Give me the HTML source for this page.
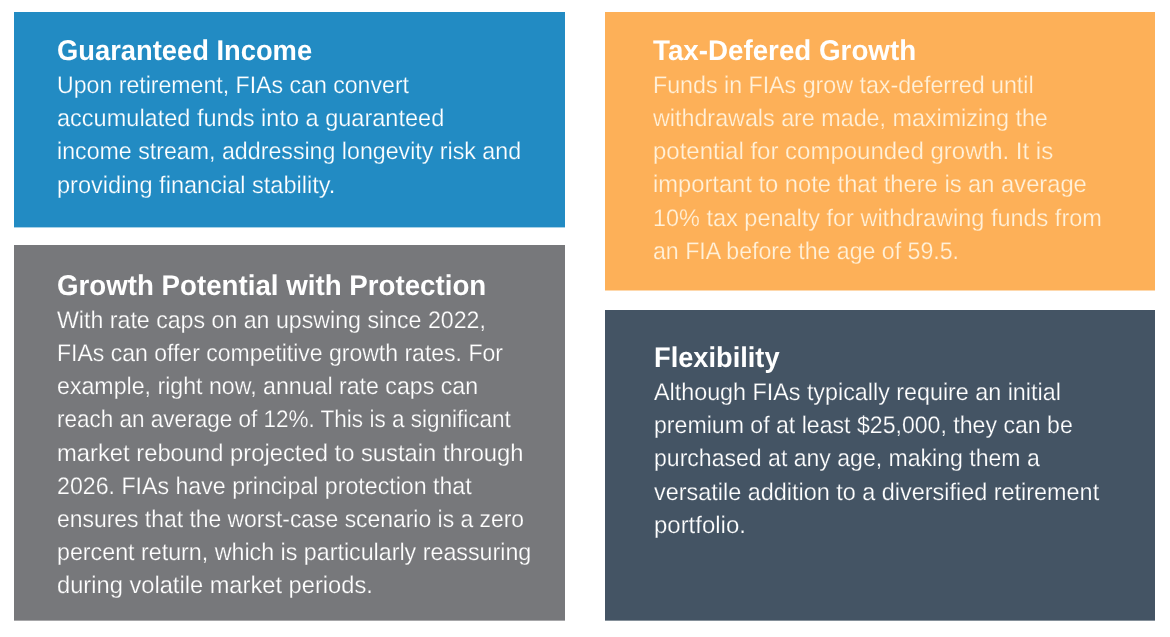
<!DOCTYPE html>
<html lang="en">
<head>
<meta charset="utf-8">
<title>Fixed Indexed Annuities &ndash; Key Benefits</title>
<style>
html,body{margin:0;padding:0;background:#fff;}
body{width:1170px;height:637px;position:relative;overflow:hidden;font-family:"Liberation Sans",sans-serif;color:#fff;}
.card{position:absolute;margin:0;}
.card h3,.card p{margin:0;padding:0;font-weight:normal;}
.ln{position:absolute;display:block;white-space:nowrap;line-height:34px;height:34px;transform-origin:0 0;}
.h{font-size:28.5px;font-weight:700;transform-origin:0 26px;text-rendering:geometricPrecision;}
.b{font-size:24px;font-weight:400;text-rendering:geometricPrecision;}

#c1{left:14px;top:12px;width:551px;height:215px;background:#228bc3;}
#c1:after{content:'';position:absolute;left:0;top:100%;width:100%;height:1px;background:#a7d1e7;}
#c1 .b{-webkit-text-stroke:0.25px #228bc3;}
#c2{left:14px;top:245px;width:551px;height:375px;background:#77787b;}
#c2:after{content:'';position:absolute;left:0;top:100%;width:100%;height:1px;background:#a7a7a9;}
#c2 .b{-webkit-text-stroke:0.25px #77787b;}
#c3{left:605px;top:12px;width:550px;height:278px;background:#fdb058;}
#c3:after{content:'';position:absolute;left:0;top:100%;width:100%;height:1px;background:#fed8ac;}
#c3 .b{color:#fff1da;}
#c3 .b{-webkit-text-stroke:0.25px #fdb058;}
#c4{left:605px;top:310px;width:550px;height:310px;background:#445464;}
#c4:after{content:'';position:absolute;left:0;top:100%;width:100%;height:1px;background:#85909a;}
#c4 .b{-webkit-text-stroke:0.25px #445464;}
</style>
</head>
<body>
<section class="card" id="c1">
<h3><span class="ln h" style="left:42.80px;top:22px;transform:scale(0.9588,1)">Guaranteed Income</span></h3>
<p>
<span class="ln b" style="left:43.10px;top:57px;transform:scale(0.9631,1)">Upon retirement, FIAs can convert</span>
<span class="ln b" style="left:43.10px;top:90px;transform:scale(0.9805,1)">accumulated funds into a guaranteed</span>
<span class="ln b" style="left:43.10px;top:123px;transform:scale(0.9663,1)">income stream, addressing longevity risk and</span>
<span class="ln b" style="left:43.10px;top:157px;transform:scale(0.9812,1)">providing financial stability.</span>
</p>
</section>
<section class="card" id="c2">
<h3><span class="ln h" style="left:42.80px;top:24px;transform:scale(0.9717,1)">Growth Potential with Protection</span></h3>
<p>
<span class="ln b" style="left:43.10px;top:59px;transform:scale(0.9654,1)">With rate caps on an upswing since 2022,</span>
<span class="ln b" style="left:43.10px;top:92px;transform:scale(0.9588,1)">FIAs can offer competitive growth rates. For</span>
<span class="ln b" style="left:43.10px;top:125px;transform:scale(0.9651,1)">example, right now, annual rate caps can</span>
<span class="ln b" style="left:43.10px;top:158px;transform:scale(0.9378,1)">reach an average of 12%. This is a significant</span>
<span class="ln b" style="left:43.10px;top:192px;transform:scale(0.9906,1)">market rebound projected to sustain through</span>
<span class="ln b" style="left:43.10px;top:225px;transform:scale(0.9653,1)">2026. FIAs have principal protection that</span>
<span class="ln b" style="left:43.10px;top:258px;transform:scale(0.9541,1)">ensures that the worst-case scenario is a zero</span>
<span class="ln b" style="left:43.10px;top:291px;transform:scale(0.9688,1)">percent return, which is particularly reassuring</span>
<span class="ln b" style="left:43.10px;top:324px;transform:scale(0.9864,1)">during volatile market periods.</span>
</p>
</section>
<section class="card" id="c3">
<h3><span class="ln h" style="left:48.00px;top:22px;transform:scale(0.9735,1)">Tax-Defered Growth</span></h3>
<p>
<span class="ln b" style="left:48.00px;top:57px;transform:scale(0.9673,1)">Funds in FIAs grow tax-deferred until</span>
<span class="ln b" style="left:48.00px;top:90px;transform:scale(0.9705,1)">withdrawals are made, maximizing the</span>
<span class="ln b" style="left:48.00px;top:123px;transform:scale(0.9998,1)">potential for compounded growth. It is</span>
<span class="ln b" style="left:48.00px;top:156px;transform:scale(0.9883,1)">important to note that there is an average</span>
<span class="ln b" style="left:48.00px;top:190px;transform:scale(0.9780,1)">10% tax penalty for withdrawing funds from</span>
<span class="ln b" style="left:48.00px;top:223px;transform:scale(0.9636,1)">an FIA before the age of 59.5.</span>
</p>
</section>
<section class="card" id="c4">
<h3><span class="ln h" style="left:48.60px;top:31px;transform:scale(0.9551,1)">Flexibility</span></h3>
<p>
<span class="ln b" style="left:48.60px;top:66px;transform:scale(0.9712,1)">Although FIAs typically require an initial</span>
<span class="ln b" style="left:48.60px;top:99px;transform:scale(0.9629,1)">premium of at least $25,000, they can be</span>
<span class="ln b" style="left:48.60px;top:132px;transform:scale(0.9605,1)">purchased at any age, making them a</span>
<span class="ln b" style="left:48.60px;top:166px;transform:scale(0.9757,1)">versatile addition to a diversified retirement</span>
<span class="ln b" style="left:48.60px;top:199px;transform:scale(0.9980,1)">portfolio.</span>
</p>
</section>
</body>
</html>
